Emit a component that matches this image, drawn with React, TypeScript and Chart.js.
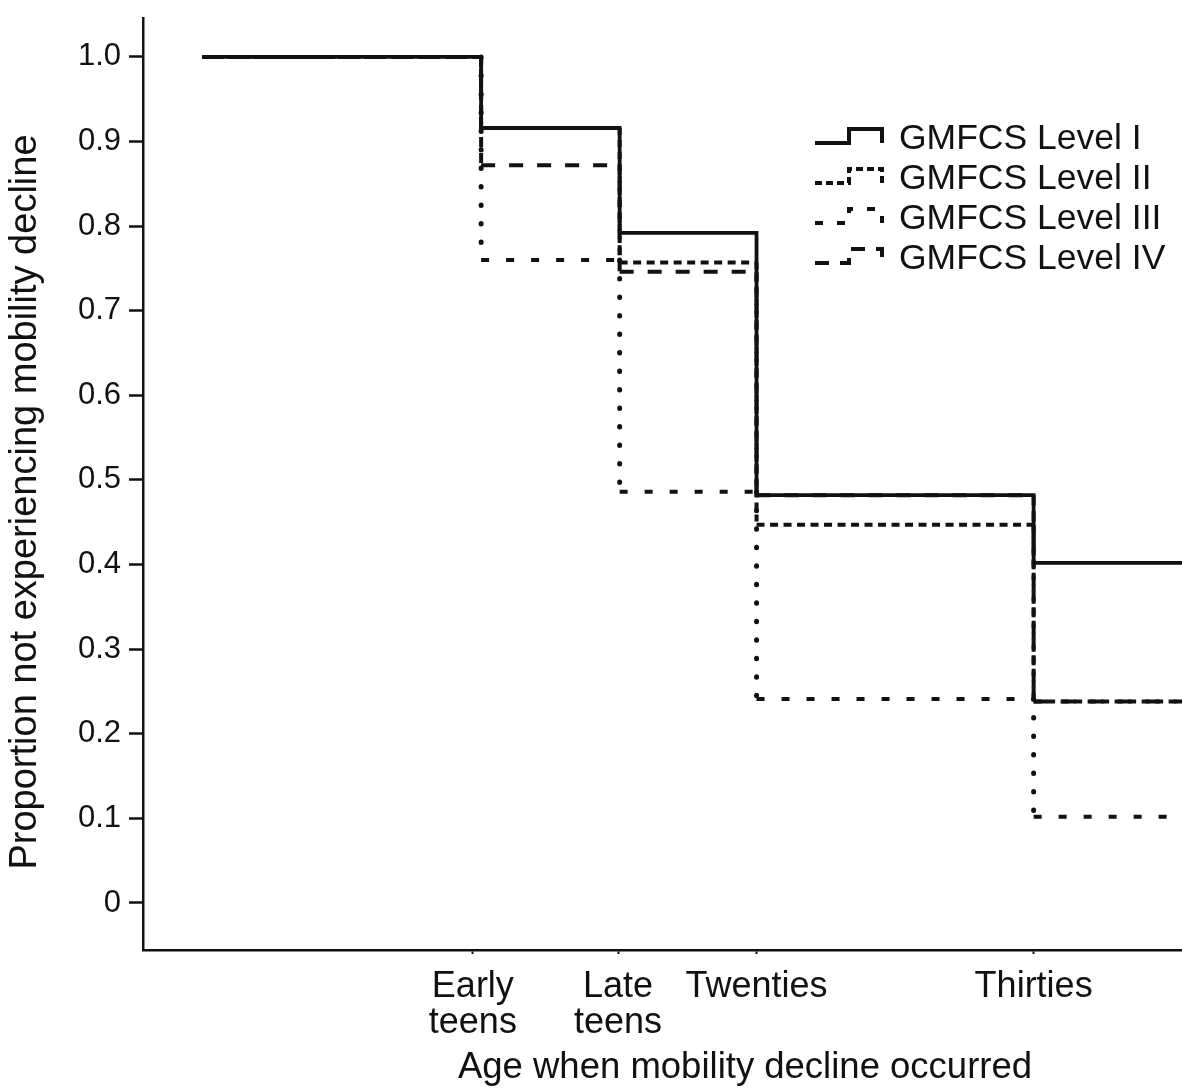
import React, { useEffect, useRef } from "react";
import { Chart, registerables } from "chart.js";

Chart.register(...registerables);

// ---- data ----
const seriesNames = ["GMFCS Level I", "GMFCS Level II", "GMFCS Level III", "GMFCS Level IV"];
// start of follow-up, decline events (Early teens, Late teens, Twenties, Thirties), end of follow-up
const eventTimes = [4.8, 13.25, 17.45, 21.6, 30, 39.5];
const levelI = [1.0, 0.916, 0.792, 0.482, 0.402];
const levelII = [1.0, 0.916, 0.757, 0.447, 0.238];
const levelIII = [1.0, 0.76, 0.486, 0.241, 0.102];
const levelIV = [1.0, 0.872, 0.746, 0.482, 0.238];
const xTickValues = [13, 17.4, 21.6, 30];
const xTickLabels: (string | string[])[] = [["Early", "teens"], ["Late", "teens"], "Twenties", "Thirties"];
const yTickValues = [0, 0.1, 0.2, 0.3, 0.4, 0.5, 0.6, 0.7, 0.8, 0.9, 1.0];
const yTitle = "Proportion not experiencing mobility decline";
const xTitle = "Age when mobility decline occurred";

// ---- styles ----
const INK = "#111";
const FONT = '"Liberation Sans", Arial, sans-serif';
const hDash = [[], [8, 5.5], [8, 17], [14, 14]];
const vDash = [[], [7, 5], [0.5, 18], [10, 6]];
const vCap = ["butt", "butt", "round", "butt"];
const vWidth = [3.8, 4, 5, 4];
const legendDash = [[], [7, 4], [8, 14], [14, 11]];

type Pt = { x: number; y: number | null };

function horizontalPts(vals: number[]): Pt[] {
  const pts: Pt[] = [];
  vals.forEach((v, i) => {
    pts.push({ x: eventTimes[i], y: v }, { x: eventTimes[i + 1], y: v }, { x: eventTimes[i + 1], y: null });
  });
  return pts;
}
function verticalPts(vals: number[]): Pt[] {
  const pts: Pt[] = [];
  for (let i = 1; i < vals.length; i++) {
    pts.push({ x: eventTimes[i], y: vals[i - 1] }, { x: eventTimes[i], y: vals[i] }, { x: eventTimes[i], y: null });
  }
  return pts;
}
function stepPts(vals: number[]): Pt[] {
  const pts: Pt[] = vals.map((v, i) => ({ x: eventTimes[i], y: v }));
  pts.push({ x: eventTimes[vals.length], y: vals[vals.length - 1] });
  return pts;
}

const overlayPlugin = {
  id: "overlay",
  afterDraw(chart: any) {
    const ctx = chart.ctx as CanvasRenderingContext2D;
    ctx.save();
    // y axis title
    ctx.fillStyle = INK;
    ctx.font = `38px ${FONT}`;
    ctx.textAlign = "center";
    ctx.textBaseline = "middle";
    ctx.translate(26, 502);
    ctx.rotate(-Math.PI / 2);
    ctx.fillText(yTitle, 0, 0);
    ctx.restore();

    // legend
    ctx.save();
    seriesNames.forEach((name, i) => {
      const cy = 138 + 40 * i;
      const low = cy + 5;
      const high = cy - 9;
      ctx.beginPath();
      ctx.setLineDash(legendDash[i]);
      ctx.lineWidth = 4;
      ctx.strokeStyle = INK;
      ctx.lineJoin = "miter";
      ctx.moveTo(815, low);
      ctx.lineTo(849, low);
      ctx.lineTo(849, high);
      ctx.lineTo(882, high);
      ctx.lineTo(882, low);
      ctx.stroke();
      ctx.setLineDash([]);
      ctx.fillStyle = INK;
      ctx.font = `35.5px ${FONT}`;
      ctx.textAlign = "left";
      ctx.textBaseline = "middle";
      ctx.fillText(name, 899, cy + 1);
    });
    ctx.restore();
  },
};

export default function App() {
  const ref = useRef<HTMLCanvasElement>(null);

  useEffect(() => {
    const levels = [levelI, levelII, levelIII, levelIV];
    const datasets: any[] = [];
    levels.forEach((vals, i) => {
      const common = {
        label: seriesNames[i],
        borderColor: INK,
        backgroundColor: INK,
        borderWidth: 4,
        pointRadius: 0,
        pointHoverRadius: 0,
        fill: false,
        tension: 0,
        spanGaps: false,
        order: i,
      };
      if (i === 0) {
        datasets.push({ ...common, data: stepPts(vals), stepped: "before", borderJoinStyle: "miter", borderWidth: 3.8 });
      } else {
        datasets.push({ ...common, data: horizontalPts(vals), borderDash: hDash[i], borderCapStyle: "butt" });
        datasets.push({
          ...common,
          data: verticalPts(vals),
          borderDash: vDash[i],
          borderCapStyle: vCap[i],
          borderWidth: vWidth[i],
        });
      }
    });

    const chart = new Chart(ref.current as HTMLCanvasElement, {
      type: "line",
      data: { datasets },
      plugins: [overlayPlugin],
      options: {
        animation: false,
        responsive: false,
        devicePixelRatio: 1,
        layout: { padding: { top: 18, right: 13, left: 0, bottom: 0 } },
        plugins: { legend: { display: false }, tooltip: { enabled: false } },
        scales: {
          x: {
            type: "linear",
            min: 3,
            max: 39.5,
            afterBuildTicks: (s: any) => {
              s.ticks = xTickValues.map((v) => ({ value: v }));
            },
            afterFit: (s: any) => {
              s.height = 138;
              s.paddingLeft = 0;
              s.paddingRight = 0;
            },
            ticks: {
              autoSkip: false,
              maxRotation: 0,
              minRotation: 0,
              padding: 15,
              color: INK,
              font: { family: FONT, size: 36, lineHeight: 1 },
              callback: (_v: any, i: number) => xTickLabels[i],
            },
            grid: { display: true, drawOnChartArea: false, drawTicks: true, tickLength: 4, tickColor: INK, tickWidth: 2 },
            border: { display: true, color: INK, width: 2.5 },
            title: {
              display: true,
              text: xTitle,
              color: INK,
              font: { family: FONT, size: 36.5, lineHeight: 1 },
              padding: { top: 0, bottom: 1.5 },
            },
          },
          y: {
            type: "linear",
            min: -0.0556,
            max: 1.046,
            afterBuildTicks: (s: any) => {
              s.ticks = yTickValues.map((v) => ({ value: v }));
            },
            afterFit: (s: any) => {
              s.width = 143;
              s.paddingTop = 0;
              s.paddingBottom = 0;
            },
            ticks: {
              padding: 8,
              color: INK,
              font: { family: FONT, size: 31 },
              callback: (v: any) => (Number(v) === 0 ? "0" : Number(v).toFixed(1)),
            },
            grid: { display: true, drawOnChartArea: false, drawTicks: true, tickLength: 14, tickColor: INK, tickWidth: 2.5 },
            border: { display: true, color: INK, width: 2.5 },
          },
        },
      } as any,
    });
    return () => chart.destroy();
  }, []);

  return (
    <div
      style={{
        position: "absolute",
        left: 0,
        top: 0,
        width: 1182,
        height: 1088,
        overflow: "hidden",
        background: "#fff",
      }}
    >
      <canvas ref={ref} width={1360} height={1088} style={{ display: "block", width: 1360, height: 1088 }} />
    </div>
  );
}
